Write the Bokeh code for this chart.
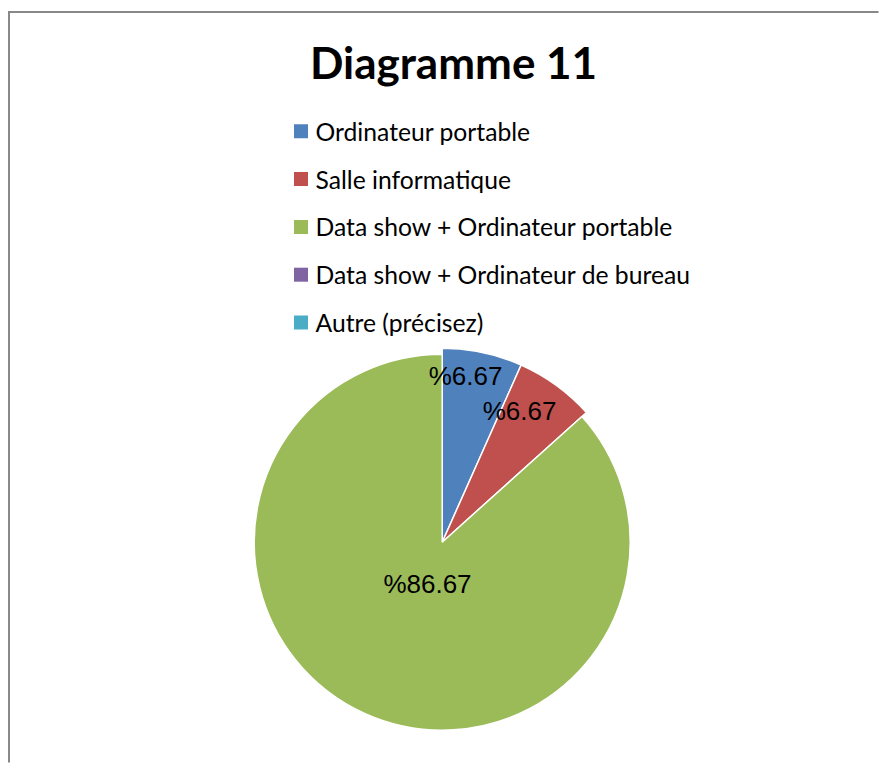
import math
from bokeh.plotting import figure
from bokeh.models import Range1d
from bokeh.core.properties import value
from bokeh.embed import file_html
from bokeh.resources import INLINE

# ---- data ----
title = "Diagramme 11"
categories = ["Ordinateur portable", "Salle informatique",
              "Data show + Ordinateur portable",
              "Data show + Ordinateur de bureau", "Autre (précisez)"]
percents = [6.67, 6.67, 86.67, 0.0, 0.0]
colors = ["#4F81BD", "#C0504D", "#9BBB59", "#8064A2", "#4BACC6"]

# ---- style / layout (screen px) ----
W, H = 880, 763
OFF = 8
def Y(sy):
    return OFF + H - sy

cx, cy = 441.7, 541.7
radii = [194, 194, 188, 188, 188]
label_rfrac = [0.865, 0.787, 0.238, 0.0, 0.0]
label_dang = [4.0, 5.6, 4.8, 0.0, 0.0]

p = figure(width=W, height=H, output_backend="svg", toolbar_location=None,
           x_range=Range1d(0, W), y_range=Range1d(OFF, OFF + H),
           min_border=0, outline_line_color=None)
p.axis.visible = False
p.grid.visible = False
p.background_fill_color = "white"
p.border_fill_color = "white"

# frame border (top & left visible, continues beyond the window)
p.segment(x0=[8.5, 8.5], y0=[Y(11.5), Y(10.5)], x1=[W - 2, 8.5], y1=[Y(11.5), OFF + 1],
          line_color="#888888", line_width=2)

# title
p.text(x=[453], y=[Y(61.5)], text=[title], text_align="center", text_baseline="middle",
       text_font=value("Lato"), text_font_style="bold", text_font_size="44px", text_color="black")

# pie
total = sum(percents)
ang = 90.0
for i, (pc, col) in enumerate(zip(percents, colors)):
    if pc <= 0:
        continue
    sweep = pc / total * 360.0
    start, end = ang - sweep, ang
    p.wedge(x=[cx], y=[Y(cy)], radius=radii[i], start_angle=math.radians(start),
            end_angle=math.radians(end), direction="anticlock",
            fill_color=col, line_color="white", line_width=1.5)
    ang = start

ang = 90.0
for i, pc in enumerate(percents):
    if pc <= 0:
        continue
    sweep = pc / total * 360.0
    mid = ang - sweep / 2 + label_dang[i]
    r = radii[i] * label_rfrac[i]
    lx = cx + r * math.cos(math.radians(mid))
    ly = Y(cy) + r * math.sin(math.radians(mid))
    p.text(x=[lx], y=[ly], text=["%" + f"{pc:.2f}"], text_align="center", text_baseline="middle",
           text_font=value("Liberation Sans"), text_font_size="26px", text_color="black")
    ang -= sweep

# legend
leg_x, leg_y0, leg_dy = 300.5, 130.8, 47.8
for i, (cat, col) in enumerate(zip(categories, colors)):
    sy = leg_y0 + i * leg_dy
    p.scatter(x=[leg_x], y=[Y(sy)], marker="square", size=14, fill_color=col, line_color=None)
    p.text(x=[leg_x + 14.5], y=[Y(sy)], text=[cat], text_align="left",
           text_baseline="middle", text_font=value("Lato"), text_font_size="24.7px",
           text_color="black")

open("out.html", "w").write(file_html(p, INLINE))
